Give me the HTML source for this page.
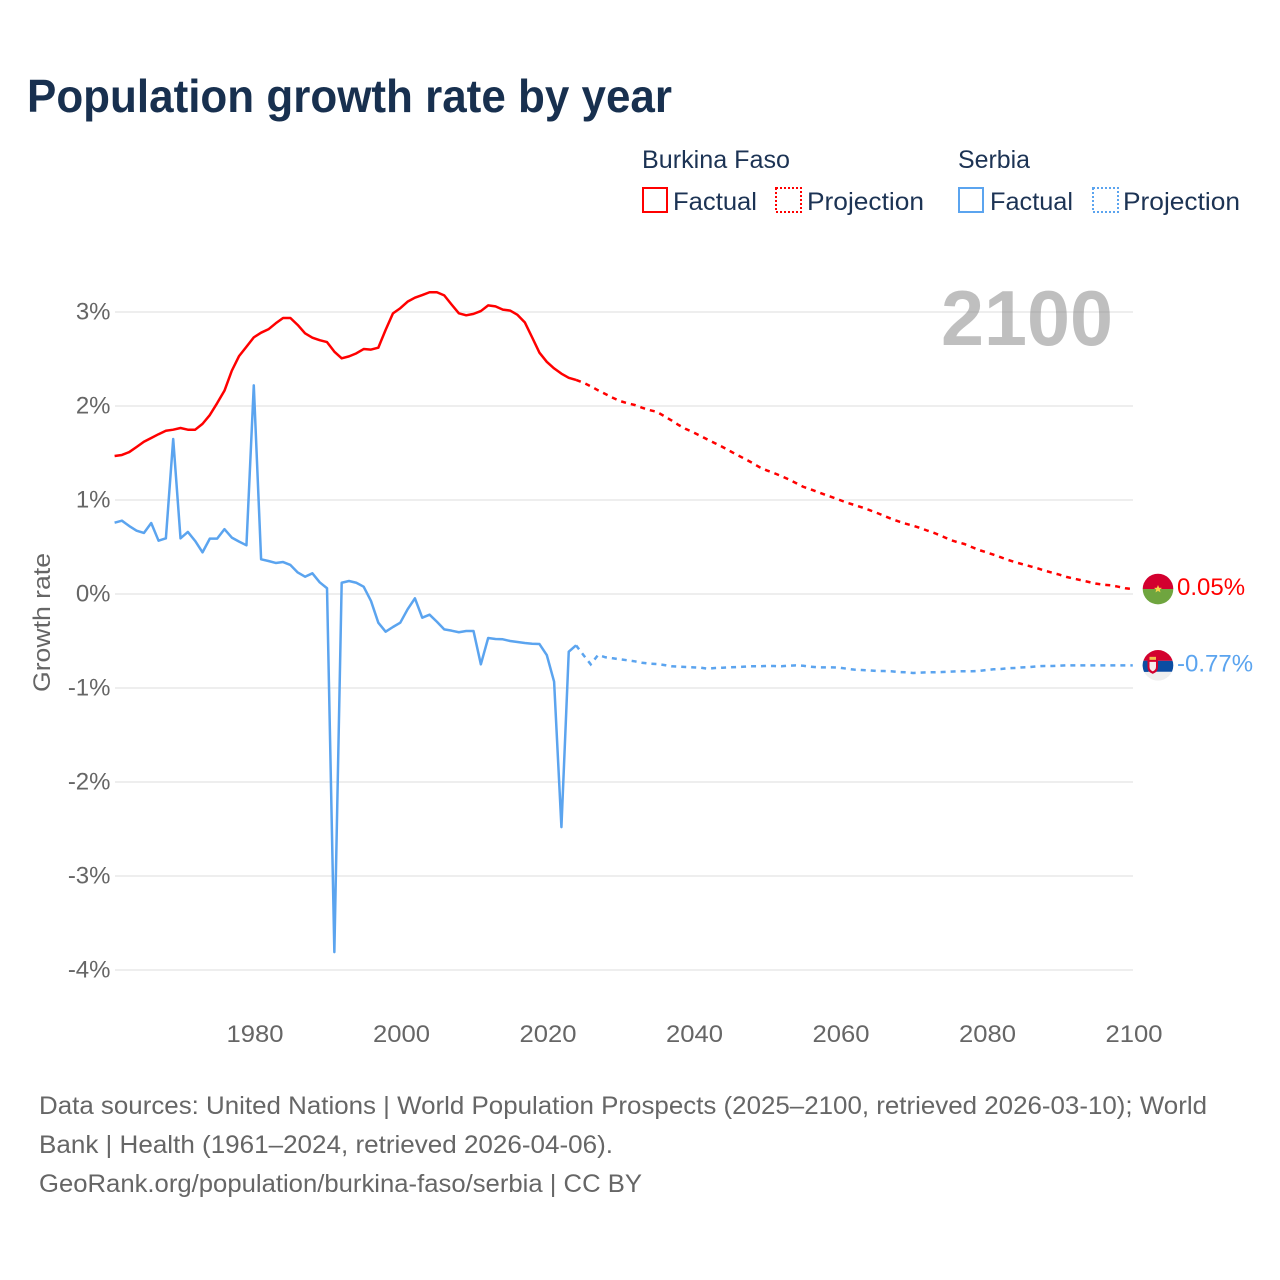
<!DOCTYPE html>
<html lang="en">
<head>
<meta charset="utf-8">
<title>Population growth rate by year</title>
<style>
  html, body { margin: 0; padding: 0; background: #fff; }
  body { width: 1280px; height: 1280px; overflow: hidden; }
  svg { display: block; font-family: "Liberation Sans", sans-serif; }
  .legend-text { fill: #1c3354; font-size: 25px; }
  .source { fill: #666; font-size: 25px; }
  .tick { fill: #666; font-size: 24px; }
</style>
</head>
<body>
<svg id="chart" width="1280" height="1280" viewBox="0 0 1280 1280" xmlns="http://www.w3.org/2000/svg">
  <rect x="0" y="0" width="1280" height="1280" fill="#fff"/>
  <text x="27" y="112" font-size="46" font-weight="700" fill="#18304f" textLength="645" lengthAdjust="spacingAndGlyphs">Population growth rate by year</text>

  <g>
    <text class="legend-text" x="642" y="168" textLength="148" lengthAdjust="spacingAndGlyphs">Burkina Faso</text>
    <text class="legend-text" x="958" y="168" textLength="72" lengthAdjust="spacingAndGlyphs">Serbia</text>
    <g>
      <rect x="643" y="188" width="24" height="24" fill="none" stroke="#ff0000" stroke-width="2" shape-rendering="crispEdges"/>
      <text class="legend-text" x="673" y="210" textLength="84" lengthAdjust="spacingAndGlyphs">Factual</text>
    </g>
    <g>
      <rect x="776" y="188" width="25" height="24" fill="none" stroke="#ff0000" stroke-width="2" stroke-dasharray="2 2" shape-rendering="crispEdges"/>
      <text class="legend-text" x="807" y="210" textLength="117" lengthAdjust="spacingAndGlyphs">Projection</text>
    </g>
    <g>
      <rect x="959" y="188" width="24" height="24" fill="none" stroke="#5ba4ef" stroke-width="2" shape-rendering="crispEdges"/>
      <text class="legend-text" x="990" y="210" textLength="83" lengthAdjust="spacingAndGlyphs">Factual</text>
    </g>
    <g>
      <rect x="1093" y="188" width="25" height="24" fill="none" stroke="#5ba4ef" stroke-width="2" stroke-dasharray="2 2" shape-rendering="crispEdges"/>
      <text class="legend-text" x="1123" y="210" textLength="117" lengthAdjust="spacingAndGlyphs">Projection</text>
    </g>
  </g>

  <g id="grid"></g>
  <g id="y-axis"></g>
  <g id="x-axis"></g>

  <text x="941" y="345" font-size="78" font-weight="700" fill="#8a8a8a" fill-opacity="0.55" textLength="172" lengthAdjust="spacingAndGlyphs">2100</text>
  <text transform="translate(50,692) rotate(-90)" font-size="24" fill="#666" textLength="139" lengthAdjust="spacingAndGlyphs">Growth rate</text>

  <g id="series"></g>
  <g id="ends"></g>

  <defs>
    <clipPath id="flag-clip"><circle cx="0" cy="0" r="15.3"/></clipPath>
    <g id="flag-bf">
      <g clip-path="url(#flag-clip)">
        <rect x="-16" y="-16" width="32" height="16" fill="#d3002f"/>
        <rect x="-16" y="0" width="32" height="16" fill="#6fa53f"/>
        <polygon points="0,-4 1.100,-1.300 4,-1.200 1.800,0.600 2.500,3.400 0,1.900 -2.500,3.400 -1.800,0.600 -4,-1.200 -1.100,-1.300" fill="#f7d34a"/>
      </g>
    </g>
    <g id="flag-rs">
      <g clip-path="url(#flag-clip)">
        <rect x="-16" y="-16" width="32" height="11.500" fill="#d3022f"/>
        <rect x="-16" y="-4.500" width="32" height="11" fill="#0c4da2"/>
        <rect x="-16" y="6.500" width="32" height="10" fill="#efefef"/>
        <rect x="-16" y="-4.500" width="6" height="11" fill="#0c4da2"/>
        <path d="M-10.500,-5 h10.500 v7 q0,4.500 -5.250,6.500 q-5.250,-2 -5.250,-6.500 z" fill="#d3022f"/>
        <rect x="-8.500" y="-8.500" width="6.500" height="3" fill="#f2c14e"/>
        <path d="M-8.500,-3.500 h6.500 v5 q0,3 -3.250,4.500 q-3.250,-1.500 -3.250,-4.500 z" fill="#f6eeee"/>
      </g>
    </g>
  </defs>

  <g>
    <text class="source" x="39" y="1114" textLength="1168" lengthAdjust="spacingAndGlyphs">Data sources: United Nations | World Population Prospects (2025–2100, retrieved 2026-03-10); World</text>
    <text class="source" x="39" y="1153" textLength="574" lengthAdjust="spacingAndGlyphs">Bank | Health (1961–2024, retrieved 2026-04-06).</text>
    <text class="source" x="39" y="1192" textLength="603" lengthAdjust="spacingAndGlyphs">GeoRank.org/population/burkina-faso/serbia | CC BY</text>
  </g>
</svg>

<script>
const firstYear = 1961;
const lastFactualYear = 2024;
const yTickValues = [3, 2, 1, 0, -1, -2, -3, -4];
const xTickYears = [1980, 2000, 2020, 2040, 2060, 2080, 2100];
const endLabels = ["0.05%", "-0.77%"];

const burkinaFactual = [
  1.468, 1.479, 1.51, 1.564, 1.62, 1.66, 1.70, 1.737, 1.748, 1.766,
  1.748, 1.748, 1.81, 1.904, 2.03, 2.163, 2.375, 2.532, 2.63, 2.73,
  2.78, 2.816, 2.88, 2.936, 2.936, 2.862, 2.773, 2.727, 2.70, 2.68,
  2.578, 2.507, 2.528, 2.56, 2.606, 2.60, 2.62, 2.81, 2.985, 3.04,
  3.11, 3.152, 3.18, 3.21, 3.21, 3.177, 3.08, 2.986, 2.965, 2.98,
  3.01, 3.07, 3.06, 3.025, 3.015, 2.97, 2.89, 2.73, 2.567, 2.47,
  2.40, 2.344, 2.30, 2.277
];
const burkinaProjection = [
  2.248, 2.21, 2.167, 2.128, 2.088, 2.053, 2.029, 2.011, 1.982, 1.957,
  1.939, 1.894, 1.848, 1.798, 1.755, 1.72, 1.681, 1.641, 1.603, 1.564,
  1.521, 1.479, 1.439, 1.397, 1.351, 1.316, 1.287, 1.255, 1.22, 1.181,
  1.141, 1.114, 1.085, 1.056, 1.029, 1.0, 0.971, 0.947, 0.922, 0.894,
  0.865, 0.833, 0.801, 0.773, 0.748, 0.727, 0.702, 0.673, 0.646, 0.614,
  0.578, 0.553, 0.532, 0.5, 0.468, 0.444, 0.418, 0.39, 0.362, 0.337,
  0.316, 0.295, 0.273, 0.248, 0.227, 0.205, 0.181, 0.163, 0.146, 0.128,
  0.11, 0.099, 0.093, 0.078, 0.061, 0.053
];
const serbiaFactual = [
  0.759, 0.78, 0.723, 0.674, 0.649, 0.755, 0.567, 0.592, 1.649, 0.592,
  0.66, 0.564, 0.443, 0.589, 0.589, 0.69, 0.6, 0.557, 0.518, 2.22,
  0.369, 0.351, 0.33, 0.34, 0.309, 0.229, 0.184, 0.22, 0.124, 0.061,
  -3.81, 0.12, 0.138, 0.12, 0.078, -0.074, -0.305, -0.401, -0.351, -0.305,
  -0.163, -0.046, -0.252, -0.22, -0.295, -0.376, -0.39, -0.407, -0.394, -0.394,
  -0.748, -0.468, -0.479, -0.482, -0.5, -0.511, -0.521, -0.529, -0.532, -0.649,
  -0.933, -2.48, -0.614, -0.546
];
const serbiaProjection = [
  -0.649, -0.748, -0.649, -0.673, -0.684, -0.695, -0.705, -0.716, -0.731, -0.741,
  -0.745, -0.755, -0.769, -0.773, -0.777, -0.78, -0.784, -0.795, -0.787, -0.784,
  -0.78, -0.777, -0.773, -0.769, -0.769, -0.766, -0.766, -0.769, -0.763, -0.759,
  -0.763, -0.773, -0.78, -0.78, -0.78, -0.784, -0.795, -0.805, -0.809, -0.812,
  -0.819, -0.819, -0.822, -0.83, -0.833, -0.84, -0.837, -0.833, -0.833, -0.83,
  -0.827, -0.822, -0.822, -0.822, -0.819, -0.809, -0.801, -0.798, -0.79, -0.787,
  -0.78, -0.777, -0.769, -0.766, -0.766, -0.763, -0.759, -0.759, -0.759, -0.759,
  -0.759, -0.759, -0.759, -0.759, -0.759, -0.759
];

const NS = "http://www.w3.org/2000/svg";
const xScale = year => 114.6 + (year - firstYear) * 7.325;
const yScale = value => 594 - value * 94;

function make(tag, parent, attrs) {
  const el = document.createElementNS(NS, tag);
  for (const key in attrs) el.setAttribute(key, attrs[key]);
  parent.appendChild(el);
  return el;
}

const grid = document.getElementById("grid");
const yAxis = document.getElementById("y-axis");
const xAxis = document.getElementById("x-axis");
const series = document.getElementById("series");
const ends = document.getElementById("ends");

yTickValues.forEach(value => {
  const line = make("line", grid, { x1: 115, x2: 1133, y1: yScale(value), y2: yScale(value), stroke: "#eeeeee", "stroke-width": 2 });
  
  
  const label = make("text", yAxis, { x: 110.5, y: yScale(value) + 7.5, "text-anchor": "end", class: "tick" });
  
  
  label.textContent = value + "%";
});

xTickYears.forEach(year => {
  const label = make("text", xAxis, { x: xScale(year) - 27.3, y: 1042, class: "tick", textLength: 57, lengthAdjust: "spacingAndGlyphs" });
  
  
  label.textContent = String(year);
});

function pathFrom(values, startYear) {
  return values.map((value, i) => (i ? "L" : "M") + xScale(startYear + i).toFixed(2) + " " + yScale(value).toFixed(2)).join(" ");
}

const burkinaFactualLine = make("path", series, { d: pathFrom(burkinaFactual, firstYear), fill: "none", stroke: "#ff0000", "stroke-width": 2.5, "stroke-linejoin": "round" });



const burkinaProjectionLine = make("path", series, { d: pathFrom([burkinaFactual[burkinaFactual.length - 1]].concat(burkinaProjection), lastFactualYear), fill: "none", stroke: "#ff0000", "stroke-width": 2.5, "stroke-dasharray": "5 5" });



const serbiaFactualLine = make("path", series, { d: pathFrom(serbiaFactual, firstYear), fill: "none", stroke: "#5ba4ef", "stroke-width": 2.5, "stroke-linejoin": "round" });



const serbiaProjectionLine = make("path", series, { d: pathFrom([serbiaFactual[serbiaFactual.length - 1]].concat(serbiaProjection), lastFactualYear), fill: "none", stroke: "#5ba4ef", "stroke-width": 2.5, "stroke-dasharray": "5 5" });



const lastBurkina = burkinaProjection[burkinaProjection.length - 1];
const lastSerbia = serbiaProjection[serbiaProjection.length - 1];

const flagBurkina = make("use", ends, { href: "#flag-bf", x: 1158, y: yScale(lastBurkina) });


const flagSerbia = make("use", ends, { href: "#flag-rs", x: 1158, y: yScale(lastSerbia) });



const labelBurkina = make("text", ends, { x: 1177, y: yScale(lastBurkina) + 6, "font-size": 24, fill: "#ff0000" });


labelBurkina.textContent = endLabels[0];
const labelSerbia = make("text", ends, { x: 1177, y: yScale(lastSerbia) + 6, "font-size": 24, fill: "#5ba4ef" });


labelSerbia.textContent = endLabels[1];
</script>
</body>
</html>
